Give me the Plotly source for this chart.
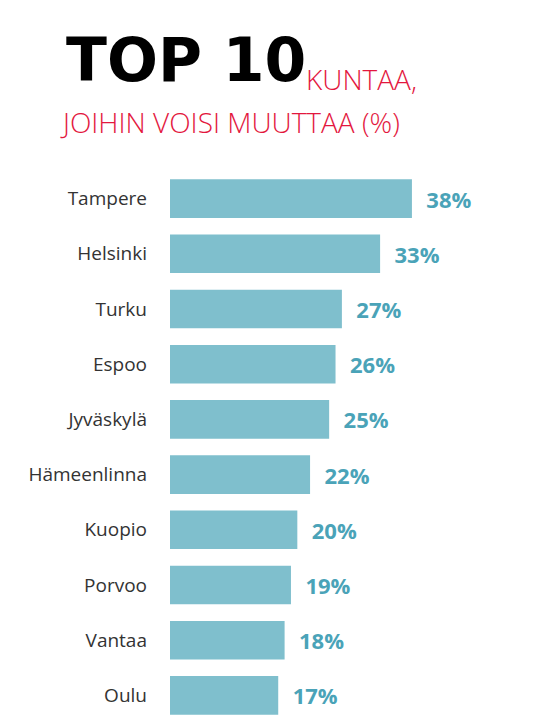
import plotly.graph_objects as go

cities = ["Tampere", "Helsinki", "Turku", "Espoo", "Jyväskylä", "Hämeenlinna", "Kuopio", "Porvoo", "Vantaa", "Oulu"]
values = [38, 33, 27, 26, 25, 22, 20, 19, 18, 17]
labels = [f"  {v}%" for v in values]

fig = go.Figure(go.Bar(
    y=cities, x=values, orientation="h",
    marker=dict(color="#7fbfcd", line=dict(width=0)),
    text=labels, textposition="outside", cliponaxis=False,
    textfont=dict(family="Open Sans", size=22, color="#4aa3b8", weight="bold"),
))
fig.update_layout(
    width=558, height=725, margin=dict(l=162, r=0, t=163, b=10, autoexpand=False),
    plot_bgcolor="white", paper_bgcolor="white", showlegend=False, bargap=0.3,
    xaxis=dict(range=[0, 62.2], visible=False, automargin=False),
    yaxis=dict(autorange="reversed", showgrid=False, ticks="", ticklabelstandoff=22, automargin=False,
               tickfont=dict(family="Open Sans", size=19, color="#333333")),
    annotations=[
        dict(text="TOP 10", x=56, y=89, showarrow=False, xanchor="left", yanchor="bottom",
             font=dict(family="DejaVu Sans", size=60, color="black", weight="bold")),
        dict(text="KUNTAA,", x=296, y=92, showarrow=False, xanchor="left", yanchor="bottom",
             font=dict(family="Open Sans", size=28, color="#e3173e", weight=300)),
        dict(text="JOIHIN VOISI MUUTTAA (%)", x=50, y=135, showarrow=False, xanchor="left", yanchor="bottom",
             font=dict(family="Open Sans", size=28, color="#e3173e", weight=300)),
    ],
)
W, H, l, r, t, b = 558, 725, 162, 0, 163, 10
for a in fig.layout.annotations:
    px, py = a.x, a.y
    a.xref = "paper"; a.yref = "paper"
    a.x = (px - l) / (W - l - r)
    a.y = (H - b - py) / (H - t - b)
fig.write_html("out.html")
